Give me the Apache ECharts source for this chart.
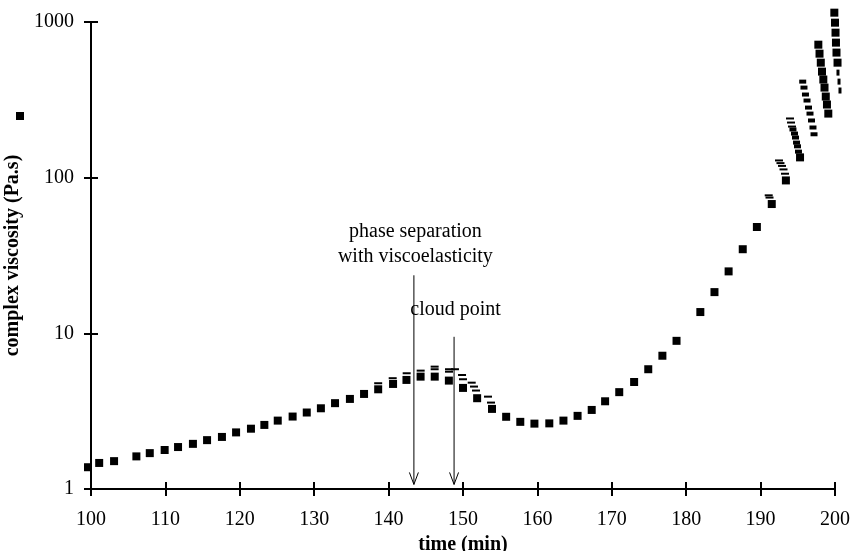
<!DOCTYPE html>
<html><head><meta charset="utf-8">
<script src="https://cdn.jsdelivr.net/npm/echarts@6/dist/echarts.min.js"></script>
<style>html,body{margin:0;padding:0;background:#fff}#c{width:852px;height:551px}</style>
</head><body><div id="c"></div>
<script>
// ---- data ----
const xTickLabels = [100,110,120,130,140,150,160,170,180,190,200];
const yTickLabels = [1,10,100,1000];

// main square markers: time (min), complex viscosity (Pa.s)
const mainTime = [99.6,101.1,103.1,106.1,107.9,109.9,111.7,113.7,115.6,117.6,119.5,121.5,123.3,125.1,127.1,129.0,130.9,132.8,134.8,136.7,138.6,140.6,142.4,144.3,146.2,148.1,150.0,151.9,153.9,155.8,157.7,159.6,161.6,163.5,165.4,167.3,169.1,171.0,173.0,174.9,176.8,178.7,181.9,183.8,185.7,187.6,189.5,191.5,193.4,195.3,
  197.76,197.92,198.09,198.25,198.43,198.59,198.76,198.92,199.10,
  199.91,200.0,200.07,200.13,200.20,200.34];
const mainVisc = [1.38,1.47,1.51,1.62,1.70,1.78,1.86,1.95,2.06,2.16,2.31,2.44,2.58,2.75,2.92,3.10,3.30,3.56,3.79,4.08,4.37,4.73,5.02,5.27,5.27,4.97,4.46,3.83,3.27,2.91,2.70,2.63,2.64,2.75,2.95,3.22,3.66,4.19,4.87,5.88,7.18,8.95,13.7,18.4,25.0,34.7,48.2,67.7,96,135,
  715,626,548,480,427,379,332,295,258,
  1148,990,854,737,636,548];

// flatter block markers in the high-viscosity clusters
const blockTime = [194.35,194.56,194.69,194.83,194.96,195.09,195.66,195.83,196.03,196.24,196.44,196.64,196.84,197.04,197.18];
const blockVisc = [204,192,181,168,159,147,414,379,342,313,282,258,233,210,190];

// thin dash markers
const dashTime = [138.6,140.55,142.43,144.31,146.19,146.19,148.12,148.12,148.92,149.87,150.0,151.17,151.48,151.75,153.36,153.76,
  191.09,191.2,192.47,192.67,192.88,193.08,193.28,193.95,194.09,194.22];
const dashVisc = [4.78,5.15,5.54,5.76,6.11,5.88,5.88,5.67,5.88,5.40,5.07,4.82,4.55,4.29,3.92,3.59,
  77.0,74.5,129,124,119,113,106,240,226,213];

// narrow sliver markers at the end
const sliverTime = [200.40,200.54,200.67];
const sliverVisc = [473,414,363];

// annotations (data units)
const arrowX = [143.4, 148.8];
const arrowFrom = [23.6, 9.5];
const arrowTo = [1.07, 1.07];
const noteText = ['phase separation','with viscoelasticity','cloud point'];
const noteX = [143.6, 143.6, 149.0];
const noteY = [44.8, 31.0, 14.1];

const zip = (a,b) => a.map((v,i)=>[v,b[i]]);
const FONT = '"Liberation Serif","Times New Roman",serif';

const chart = echarts.init(document.getElementById('c'), null, {renderer:'canvas'});
const tickStyle = {color:'#000', width:2};
const mark = {color:'#000', opacity:1};
chart.setOption({
  animation:false,
  backgroundColor:'#fff',
  grid:{left:91,right:17,top:22,bottom:62,containLabel:false,outerBoundsMode:'none'},
  legend:{data:['complex viscosity'], left:16, top:112, itemWidth:8, itemHeight:8, icon:'rect',
    formatter:()=>'', itemGap:0, padding:0, textStyle:{fontSize:1}, itemStyle:{opacity:1}},
  xAxis:[{
    type:'value', min:100, max:200, interval:10,
    name:'time (min)', nameLocation:'middle', nameGap:46,
    nameTextStyle:{fontFamily:FONT, fontSize:20, fontWeight:'bold', color:'#000'},
    axisLine:{show:true, lineStyle:{color:'#000', width:2}},
    axisTick:{show:true, inside:false, length:7, lineStyle:tickStyle},
    axisLabel:{fontFamily:FONT, fontSize:20, color:'#000', margin:21,
      formatter:(v)=> xTickLabels.includes(v) ? String(v) : ''},
    splitLine:{show:false}
  },{
    type:'value', min:100, max:200, interval:10, position:'bottom',
    axisLine:{show:false}, axisTick:{show:true, inside:true, length:7, lineStyle:tickStyle},
    axisLabel:{show:false}, splitLine:{show:false}
  }],
  yAxis:[{
    type:'log', logBase:10, min:1, max:1000,
    name:'complex viscosity (Pa.s)', nameLocation:'middle', nameGap:61, nameRotate:90,
    nameTextStyle:{fontFamily:FONT, fontSize:20, fontWeight:'bold', color:'#000'},
    axisLine:{show:true, lineStyle:{color:'#000', width:2}},
    axisTick:{show:true, inside:false, length:7, lineStyle:tickStyle},
    axisLabel:{fontFamily:FONT, fontSize:20, color:'#000', margin:17,
      formatter:(v)=> yTickLabels.includes(Math.round(v)) ? String(Math.round(v)) : ''},
    minorTick:{show:false}, splitLine:{show:false}
  },{
    type:'log', logBase:10, min:1, max:1000, position:'left',
    axisLine:{show:false}, axisTick:{show:true, inside:true, length:7, lineStyle:tickStyle},
    axisLabel:{show:false}, splitLine:{show:false}
  }],
  tooltip:{show:false},
  series:[
    {name:'complex viscosity', type:'scatter', symbol:'rect', symbolSize:8, clip:false,
      itemStyle:mark, data:zip(mainTime, mainVisc), z:3},
    {name:'blocks', type:'scatter', symbol:'rect', symbolSize:[7,4], clip:false,
      itemStyle:mark, data:zip(blockTime, blockVisc), z:3},
    {name:'dashes', type:'scatter', symbol:'rect', symbolSize:[8,2], clip:false,
      itemStyle:mark, data:zip(dashTime, dashVisc), z:3},
    {name:'slivers', type:'scatter', symbol:'rect', symbolSize:[3,6], clip:false,
      itemStyle:mark, data:zip(sliverTime, sliverVisc), z:3},
    {name:'arrows', type:'custom', coordinateSystem:'cartesian2d', clip:false, z:4,
      encode:{x:0, y:1},
      data: arrowX.map((x,i)=>[x, arrowFrom[i], arrowTo[i]]),
      renderItem:(params, api)=>{
        const i = params.dataIndex;
        const p1 = api.coord([arrowX[i], arrowFrom[i]]);
        const p2 = api.coord([arrowX[i], arrowTo[i]]);
        return {type:'group', children:[
          {type:'line', shape:{x1:p1[0], y1:p1[1], x2:p2[0], y2:p2[1]}, style:{stroke:'#000', lineWidth:1}},
          {type:'polyline', shape:{points:[[p2[0]-4.5,p2[1]-12],[p2[0],p2[1]],[p2[0]+4.5,p2[1]-12]]},
            style:{stroke:'#000', fill:null, lineWidth:1}}
        ]};
      }},
    {name:'notes', type:'custom', coordinateSystem:'cartesian2d', clip:false, z:5,
      encode:{x:0, y:1},
      data: noteX.map((x,i)=>[x, noteY[i]]),
      renderItem:(params, api)=>{
        const i = params.dataIndex;
        const p = api.coord([noteX[i], noteY[i]]);
        return {type:'text', x:p[0], y:p[1],
          style:{text:noteText[i], fill:'#000', fontFamily:FONT, fontSize:20,
            align:'center', verticalAlign:'middle'}};
      }}
  ]
});
</script>
</body></html>
